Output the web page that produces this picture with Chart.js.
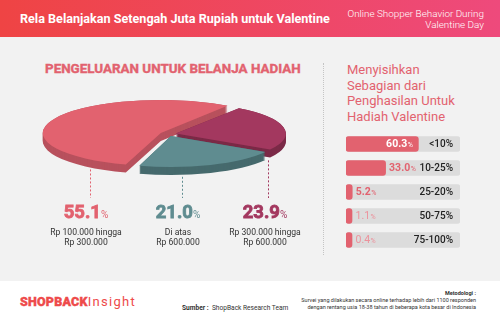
<!DOCTYPE html>
<html><head><meta charset="utf-8">
<script src="https://cdn.jsdelivr.net/npm/chart.js@4.4.1/dist/chart.umd.min.js"></script>
<style>
*{margin:0;padding:0;box-sizing:border-box}
body{width:500px;height:322px;overflow:hidden;font-family:Roboto,"Noto Sans",sans-serif;background:#fff}
#wrap{position:relative;width:500px;height:322px;background:#f2f2f2;overflow:hidden}
#hdr{position:absolute;left:0;top:0;width:500px;height:37px;background:linear-gradient(90deg,#ef4444 0%,#ee4a7c 100%)}
#title{position:absolute;left:20px;top:12px;color:#fff;font-weight:700;font-size:12.6px;line-height:14px;white-space:nowrap}
#sub{position:absolute;right:16px;top:7.5px;color:#fff;font-weight:300;font-size:9.9px;line-height:11px;text-align:right;white-space:nowrap}
#sec{position:absolute;left:45px;top:61px;color:#e2626f;font-weight:700;font-size:13.4px;line-height:16px;white-space:nowrap;-webkit-text-stroke:0.4px #e2626f}
#rtitle{position:absolute;left:347px;top:62px;color:#e2626f;font-weight:400;font-size:13px;line-height:15.7px}
#sep{position:absolute;left:323px;top:63px;width:0;height:192px;border-left:1px dotted #c4c4c4}
canvas{position:absolute}
#pieBack,#pieFront{left:28px;top:-6px}
#bars{left:346px;top:132px}
.lbl{position:absolute;top:202px;width:110px;text-align:center;white-space:nowrap}
.lbl .num{font-family:Roboto;font-weight:700;font-size:18.5px;line-height:20px;-webkit-text-stroke:0.8px currentColor}
.lbl .pc{font-weight:400;font-size:10px;-webkit-text-stroke:0}
.lbl .cat{color:#333;font-size:8.6px;line-height:9.5px;margin-top:3px}
#foot{position:absolute;left:0;top:281px;width:500px;height:41px;background:#fff}
#logo{position:absolute;left:20px;top:293px;color:#ee4a4a;font-size:13px;line-height:18px;white-space:nowrap;letter-spacing:1.3px}
#logo b{font-weight:900;font-size:12.5px;letter-spacing:0.2px;-webkit-text-stroke:0.4px #ee4a4a}
#src{position:absolute;left:182px;top:303px;color:#333;font-size:6.6px;line-height:10px;white-space:nowrap}
#met{position:absolute;right:24px;top:290px;color:#333;font-size:5.5px;line-height:7px;text-align:right;white-space:nowrap}
</style></head>
<body>
<div id="wrap">
  <div id="hdr"></div>
  <div id="title">Rela Belanjakan Setengah Juta Rupiah untuk Valentine</div>
  <div id="sub">Online Shopper Behavior During<br>Valentine Day</div>
  <div id="sec">PENGELUARAN UNTUK BELANJA HADIAH</div>
  <canvas id="pieBack" width="280" height="280"></canvas>
  <canvas id="pieFront" width="280" height="280"></canvas>
  <div id="sep"></div>
  <div id="rtitle">Menyisihkan<br>Sebagian dari<br>Penghasilan Untuk<br>Hadiah Valentine</div>
  <canvas id="bars" width="114" height="120"></canvas>
  <div id="foot"></div>
  <div id="logo"><b>SHOPBACK</b>Insight</div>
  <div id="src"><b>Sumber :</b>&nbsp; ShopBack Research Team</div>
  <div id="met"><b>Metodologi :</b><br>Survei yang dilakukan secara online terhadap lebih dari 1100 responden<br>dengan rentang usia 18-38 tahun di beberapa kota besar di Indonesia</div>
</div>
<script>
// ---- data ----
const spendCategories = [['Rp 300.000 hingga', 'Rp 600.000'], ['Di atas', 'Rp 600.000'], ['Rp 100.000 hingga', 'Rp 300.000']];
const spendShares = [23.9, 21.0, 55.1];
const saveCategories = ['<10%', '10-25%', '25-20%', '50-75%', '75-100%'];
const saveShares = [60.3, 33.0, 5.2, 1.1, 0.4];

// ---- styles / layout ----
const topColors = ['#a3385f', '#5f8c90', '#e2626f'];
const sideColors = ['#7b2a47', '#466a6d', '#b8515d'];
const labelCenters = [265, 178, 86];      // screen x of label groups
const connectorX = [268, 182, 90];        // screen x of dashed connectors
const PIE_LEFT = 28, PIE_TOP = -6, SQUASH = 0.28, DEPTH = 8, LABEL_TOP = 200;

Chart.defaults.font.family = 'Roboto';
Chart.defaults.animation = false;

const squash = {
  id: 'squash',
  beforeDatasetsDraw(chart, args, o) {
    const ctx = chart.ctx;
    const cy = (chart.chartArea.top + chart.chartArea.bottom) / 2;
    const meta = chart.getDatasetMeta(0);
    for (let d = o.depth; d >= 1; d--) {
      ctx.save();
      ctx.translate(0, d + cy * (1 - o.s));
      ctx.scale(1, o.s);
      meta.data.forEach(a => a.draw(ctx));
      ctx.restore();
    }
    ctx.save();
    ctx.translate(0, cy * (1 - o.s));
    ctx.scale(1, o.s);
  },
  afterDatasetsDraw(chart) { chart.ctx.restore(); }
};

const connectors = {
  id: 'connectors',
  afterDraw(chart, args, o) {
    if (!o.on) return;
    const ctx = chart.ctx;
    const cy = (chart.chartArea.top + chart.chartArea.bottom) / 2;
    chart.getDatasetMeta(0).data.forEach((a, i) => {
      const off = (a.options.offset || 0) / 4;
      const h = (a.startAngle + a.endAngle) / 2;
      const circ = a.endAngle - a.startAngle;
      const r = a.outerRadius + off * (1 - Math.sin(Math.min(Math.PI, circ)));
      const cx0 = a.x + Math.cos(h) * off, cy0 = a.y + Math.sin(h) * off;
      const x = connectorX[i] - PIE_LEFT;
      const dx = Math.min(Math.abs(x - cx0) / r, 1);
      const yb = cy0 + Math.sqrt(1 - dx * dx) * r;
      const ys = cy + (yb - cy) * SQUASH + DEPTH + 2;
      ctx.save();
      ctx.strokeStyle = topColors[i];
      ctx.lineWidth = 1;
      ctx.setLineDash([2, 2]);
      ctx.beginPath();
      ctx.moveTo(x + 0.5, ys);
      ctx.lineTo(x + 0.5, LABEL_TOP - PIE_TOP - 2);
      ctx.stroke();
      ctx.restore();
    });
  }
};

function pie(id, colors, depth, on) {
  return new Chart(document.getElementById(id), {
    type: 'pie',
    data: { labels: spendCategories, datasets: [{ data: spendShares, backgroundColor: colors, borderWidth: 0, offset: 32 }] },
    options: {
      responsive: false, radius: 110, rotation: 35,
      layout: { padding: 0 },
      plugins: { legend: { display: false }, tooltip: { enabled: false }, squash: { s: SQUASH, depth: depth }, connectors: { on: on } }
    },
    plugins: [squash, connectors]
  });
}
pie('pieBack', sideColors, DEPTH, false);
pie('pieFront', topColors, 0, true);

// labels under the pie
spendShares.forEach((v, i) => {
  const d = document.createElement('div');
  d.className = 'lbl';
  d.style.left = (labelCenters[i] - 55) + 'px';
  d.innerHTML = '<div class="num" style="color:' + topColors[i] + '">' + v.toFixed(1) + '<span class="pc">%</span></div>' +
    '<div class="cat">' + spendCategories[i].join('<br>') + '</div>';
  document.getElementById('wrap').appendChild(d);
});

// bar chart
const SCALE_MAX = 95;
const barLabels = {
  id: 'barLabels',
  afterDatasetsDraw(chart) {
    const ctx = chart.ctx, area = chart.chartArea;
    chart.getDatasetMeta(0).data.forEach((bar, i) => {
      const v = saveShares[i], num = v.toFixed(1), y = bar.y + 0.5;
      ctx.save();
      ctx.textBaseline = 'middle';
      ctx.font = '500 10px Roboto';
      ctx.fillStyle = '#222';
      ctx.textAlign = 'right';
      ctx.fillText(saveCategories[i], area.right - 7, y);
      const big = v >= 5;
      const f1 = (big ? '700 ' : '400 ') + '10.5px Roboto', f2 = '400 7px Roboto';
      ctx.font = f1; const w1 = ctx.measureText(num).width;
      ctx.font = f2; const w2 = ctx.measureText('%').width;
      let x0, col;
      if (bar.x - bar.base > 50) { x0 = bar.x - 6 - w1 - w2; col = '#fff'; }
      else { x0 = bar.x + 3.5; col = big ? '#e2626f' : '#ec929c'; }
      ctx.textAlign = 'left';
      ctx.fillStyle = col;
      ctx.font = f1; ctx.fillText(num, x0, y);
      ctx.font = f2; ctx.fillText('%', x0 + w1 + 0.5, y + 1);
      ctx.restore();
    });
  }
};
new Chart(document.getElementById('bars'), {
  type: 'bar',
  data: {
    labels: saveCategories,
    datasets: [
      { data: saveShares, backgroundColor: '#e2626f', borderRadius: 3, borderSkipped: false, barThickness: 15, grouped: false, order: 0, minBarLength: 6 },
      { data: saveCategories.map(() => SCALE_MAX), backgroundColor: '#dcdcdc', borderRadius: 3, borderSkipped: false, barThickness: 15, grouped: false, order: 1 }
    ]
  },
  options: {
    responsive: false, indexAxis: 'y',
    layout: { padding: 0 },
    scales: { x: { display: false, min: 0, max: SCALE_MAX }, y: { display: false } },
    plugins: { legend: { display: false }, tooltip: { enabled: false } }
  },
  plugins: [barLabels]
});
</script>
</body></html>
